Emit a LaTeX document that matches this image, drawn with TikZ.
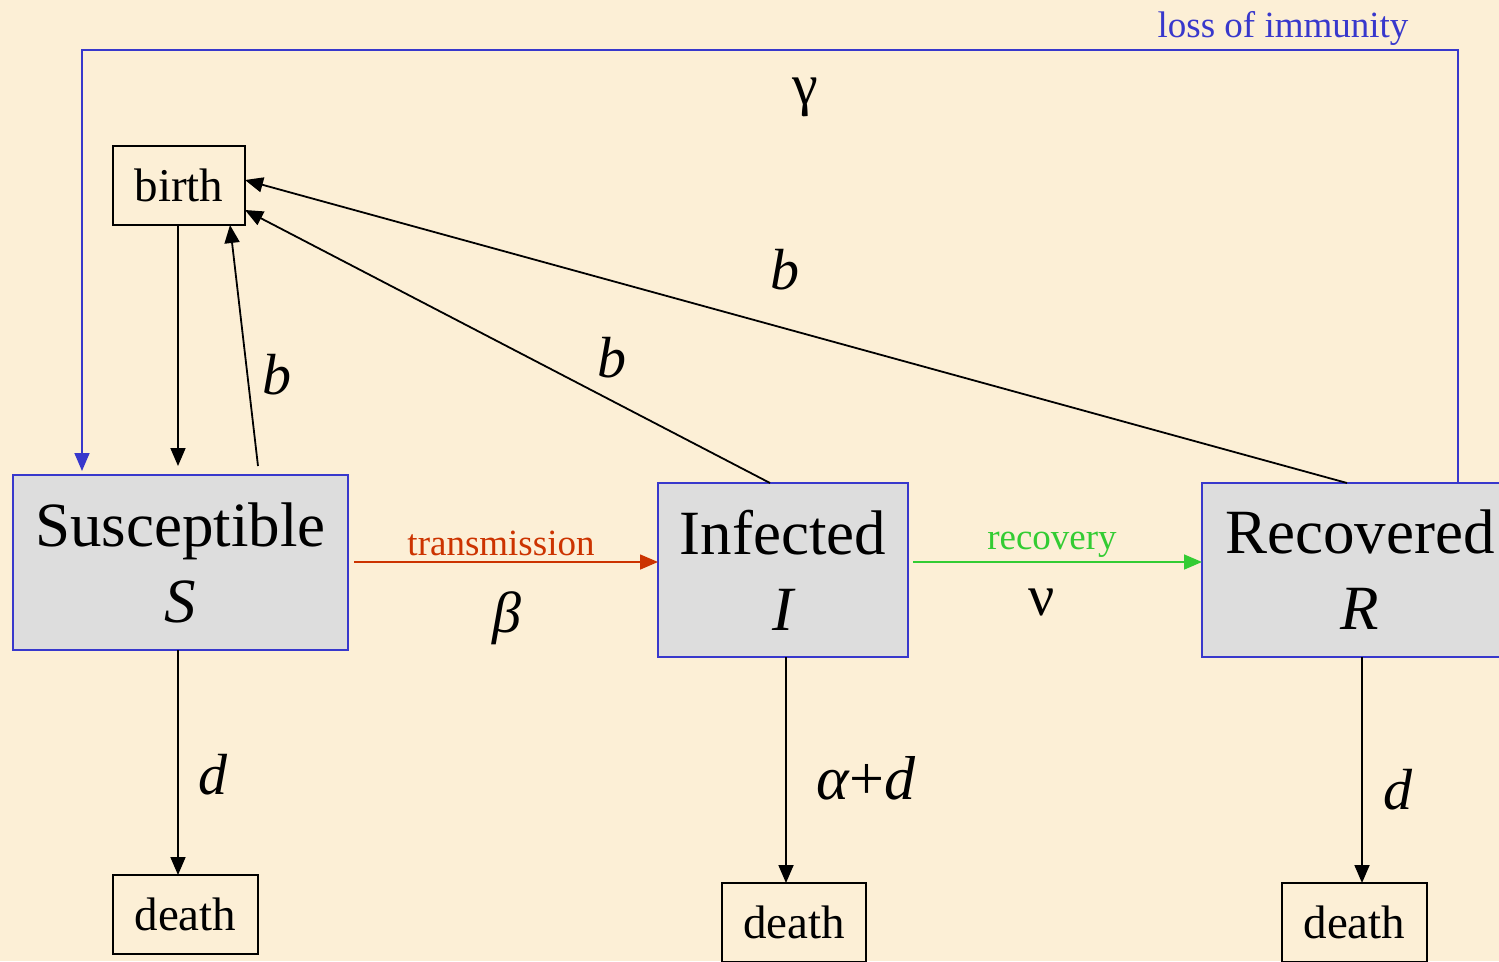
\documentclass[tikz,border=0pt]{standalone}
\usepackage{fontspec}
\setmainfont{Liberation Serif}
\usetikzlibrary{arrows.meta}
\definecolor{bg}{HTML}{FCEFD6}
\definecolor{boxfill}{HTML}{DDDDDD}
\definecolor{boxblue}{HTML}{3838CC}
\definecolor{tred}{HTML}{CC3300}
\definecolor{rgreen}{HTML}{33CC33}
\tikzset{
  comp/.style={draw=boxblue, fill=boxfill, line width=2pt, inner sep=0pt, outer sep=0pt, align=center,
    font=\fontsize{63}{76}\selectfont},
  small/.style={draw=black, line width=2pt, inner sep=0pt, outer sep=0pt, minimum width=145pt, minimum height=79pt,
    font=\fontsize{47}{56}\selectfont},
  arr/.style={line width=1.8pt, -{Triangle[length=18pt,width=15pt]}},
  rate/.style={font=\fontsize{58}{64}\selectfont, inner sep=0pt},
  lab/.style={font=\fontsize{37}{42}\selectfont, inner sep=0pt}
}
\begin{document}
\begin{tikzpicture}[x=1pt,y=-1pt]
\useasboundingbox (0,0) rectangle (1499,961);
\clip (0,0) rectangle (1499,961);
\fill[bg] (0,0) rectangle (1499,961);

\node[comp, minimum width=335pt, minimum height=175pt] (S) at (180.5,562.5) {Susceptible\\\itshape S};
\node[comp, minimum width=250pt, minimum height=174pt] (I) at (783,570) {Infected\\\itshape I};
\node[comp, minimum width=316pt, minimum height=174pt] (R) at (1360,570) {Recovered\\\itshape R};

\node[small, minimum width=132pt] (birth) at (179,185.5) {birth};
\node[small] (dS) at (185.5,914.5) {death};
\node[small, minimum width=144pt] (dI) at (794,922.5) {death};
\node[small] (dR) at (1354.5,922.5) {death};

% birth <-> S
\draw[arr, shorten >=9pt] (birth.south -| 178,0) -- (S.north -| 178,0);
\coordinate (s1) at (258,466);
\draw[arr] (s1) -- ([xshift=51pt]birth.south);
\draw[arr] ([xshift=-13pt]I.north) -- ([yshift=-24.5pt]birth.east);
\draw[arr] ([xshift=-13pt]R.north) -- ([yshift=5.5pt]birth.east);

% transmission / recovery
\draw[arr, tred, line width=1.6pt, shorten <=6pt] ([yshift=0.5pt]S.east) -- ([yshift=0.5pt]S.east -| I.west);
\draw[arr, rgreen, line width=1.6pt, shorten <=5pt] ([yshift=8pt]I.east) -- ([yshift=8pt]R.west);

% loss of immunity
\coordinate (LI) at (82,471);
\draw[arr, boxblue, line width=1.6pt] ([xshift=98pt]R.north) -- ++(0,-433) -| (LI);

% deaths
\draw[arr] (S.south -| 178,0) -- (dS.north -| 178,0);
\draw[arr] (I.south -| 786,0) -- (dI.north -| 786,0);
\draw[arr] (R.south -| 1362,0) -- (dR.north -| 1362,0);

% labels
\node[lab, text=boxblue] (lloss) at (1283,28) {loss of immunity};
\node[rate] (lgamma) at (805,97) {γ};
\node[rate] (lb1) at (785,270) {\itshape b};
\node[rate] (lb2) at (612,358) {\itshape b};
\node[rate] (lb3) at (277,375) {\itshape b};
\node[lab, text=tred] (ltrans) at (501,543) {transmission};
\node[rate] (lbeta) at (507,618) {\itshape β};
\node[lab, text=rgreen] (lrec) at (1052,545) {recovery};
\node[rate] (lnu) at (1042,602) {ν};
\node[rate] (ld1) at (213,775) {\itshape d};
\node[rate, font=\fontsize{62}{68}\selectfont] (lad) at (866,778) {\itshape α\upshape +\itshape d};
\node[rate] (ld2) at (1398,790) {\itshape d};
\end{tikzpicture}
\end{document}
